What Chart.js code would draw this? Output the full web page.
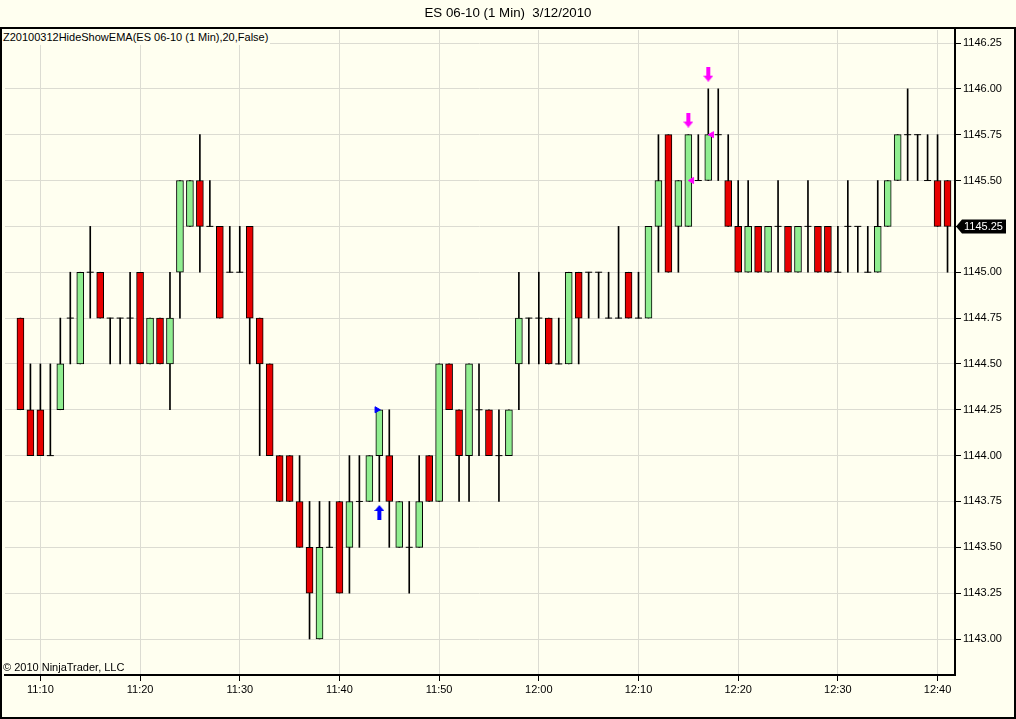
<!DOCTYPE html>
<html>
<head>
<meta charset="utf-8">
<script src="https://cdn.jsdelivr.net/npm/chart.js@4.4.1/dist/chart.umd.min.js"></script>
<style>
  html, body { margin: 0; padding: 0; background: #fffff0; }
  #wrap { position: relative; width: 1016px; height: 719px; overflow: hidden; background: #fffff0; }
  #c { position: absolute; left: 0; top: 0; }
  .txt { position: absolute; font-family: "Liberation Sans", Arial, sans-serif; color: #000; white-space: pre; }
  #title { left: 0; width: 1016px; top: 5px; text-align: center; font-size: 13.3px; }
  #ind { left: 2px; top: 30px; font-size: 11px; padding: 1px 2px 2px 1px; background: #fffff0; }
  #copy { left: 3px; top: 661px; font-size: 11px; }
</style>
</head>
<body>
<div id="wrap">
  <canvas id="c" width="1016" height="719"></canvas>
  <div class="txt" id="title">ES 06-10 (1 Min)  3/12/2010</div>
  <div class="txt" id="ind">Z20100312HideShowEMA(ES 06-10 (1 Min),20,False)</div>
  <div class="txt" id="copy">© 2010 NinjaTrader, LLC</div>
</div>
<script>
// 1 minute bars, ES 06-10, 3/12/2010
var times = [
  '11:08','11:09','11:10','11:11','11:12','11:13','11:14','11:15','11:16','11:17',
  '11:18','11:19','11:20','11:21','11:22','11:23','11:24','11:25','11:26','11:27',
  '11:28','11:29','11:30','11:31','11:32','11:33','11:34','11:35','11:36','11:37',
  '11:38','11:39','11:40','11:41','11:42','11:43','11:44','11:45','11:46','11:47',
  '11:48','11:49','11:50','11:51','11:52','11:53','11:54','11:55','11:56','11:57',
  '11:58','11:59','12:00','12:01','12:02','12:03','12:04','12:05','12:06','12:07',
  '12:08','12:09','12:10','12:11','12:12','12:13','12:14','12:15','12:16','12:17',
  '12:18','12:19','12:20','12:21','12:22','12:23','12:24','12:25','12:26','12:27',
  '12:28','12:29','12:30','12:31','12:32','12:33','12:34','12:35','12:36','12:37',
  '12:38','12:39','12:40','12:41'
];
var opens = [
  1144.75,1144.25,1144.25,1144.00,1144.25,1144.75,1144.50,1145.00,1145.00,1144.75,
  1144.75,1144.75,1145.00,1144.50,1144.75,1144.50,1145.00,1145.25,1145.50,1145.25,
  1145.25,1145.00,1145.00,1145.25,1144.75,1144.50,1144.00,1144.00,1143.75,1143.50,
  1143.00,1143.50,1143.75,1143.50,1143.75,1143.75,1144.00,1144.00,1143.50,1143.50,
  1143.50,1144.00,1143.75,1144.50,1144.25,1144.00,1144.25,1144.25,1144.00,1144.00,
  1144.50,1144.75,1144.75,1144.75,1144.50,1144.50,1145.00,1145.00,1145.00,1144.75,
  1144.75,1145.00,1144.75,1144.75,1145.25,1145.75,1145.25,1145.25,1145.50,1145.50,
  1145.75,1145.50,1145.25,1145.00,1145.25,1145.00,1145.25,1145.25,1145.00,1145.25,
  1145.25,1145.25,1145.00,1145.25,1145.25,1145.00,1145.00,1145.25,1145.50,1145.75,
  1145.75,1145.50,1145.50,1145.50
];
var highs = [
  1144.75,1144.50,1144.50,1144.50,1144.75,1145.00,1145.00,1145.25,1145.00,1144.75,
  1144.75,1145.00,1145.00,1144.75,1144.75,1145.00,1145.50,1145.50,1145.75,1145.50,
  1145.25,1145.25,1145.25,1145.25,1144.75,1144.50,1144.00,1144.00,1144.00,1143.75,
  1143.75,1143.75,1143.75,1144.00,1144.00,1144.00,1144.25,1144.25,1143.75,1143.75,
  1144.00,1144.00,1144.50,1144.50,1144.25,1144.50,1144.50,1144.25,1144.25,1144.25,
  1145.00,1144.75,1145.00,1144.75,1144.75,1145.00,1145.00,1145.00,1145.00,1145.00,
  1145.25,1145.00,1145.00,1145.25,1145.75,1145.75,1145.50,1145.75,1145.75,1146.00,
  1146.00,1145.75,1145.50,1145.50,1145.25,1145.25,1145.50,1145.25,1145.25,1145.50,
  1145.25,1145.25,1145.25,1145.50,1145.25,1145.25,1145.50,1145.50,1145.75,1146.00,
  1145.75,1145.75,1145.75,1145.50
];
var lows = [
  1144.25,1144.00,1144.00,1144.00,1144.25,1144.50,1144.50,1144.75,1144.75,1144.50,
  1144.50,1144.50,1144.50,1144.50,1144.50,1144.25,1144.75,1145.25,1145.00,1145.25,
  1144.75,1145.00,1145.00,1144.50,1144.00,1144.00,1143.75,1143.75,1143.50,1143.00,
  1143.00,1143.50,1143.25,1143.25,1143.50,1143.75,1143.75,1143.50,1143.50,1143.25,
  1143.50,1143.75,1143.75,1144.25,1143.75,1143.75,1144.00,1144.00,1143.75,1144.00,
  1144.25,1144.50,1144.50,1144.50,1144.50,1144.50,1144.50,1144.75,1144.75,1144.75,
  1144.75,1144.75,1144.75,1144.75,1145.00,1145.00,1145.00,1145.25,1145.50,1145.50,
  1145.50,1145.25,1145.00,1145.00,1145.00,1145.00,1145.00,1145.00,1145.00,1145.00,
  1145.00,1145.00,1145.00,1145.00,1145.00,1145.00,1145.00,1145.25,1145.50,1145.50,
  1145.50,1145.50,1145.25,1145.00
];
var closes = [
  1144.25,1144.00,1144.00,1144.00,1144.50,1144.75,1145.00,1145.00,1144.75,1144.75,
  1144.75,1144.75,1144.50,1144.75,1144.50,1144.75,1145.50,1145.50,1145.25,1145.25,
  1144.75,1145.00,1145.00,1144.75,1144.50,1144.00,1143.75,1143.75,1143.50,1143.25,
  1143.50,1143.50,1143.25,1143.75,1143.75,1144.00,1144.25,1143.75,1143.75,1143.50,
  1143.75,1143.75,1144.50,1144.25,1144.00,1144.50,1144.25,1144.00,1144.00,1144.25,
  1144.75,1144.75,1144.75,1144.50,1144.50,1145.00,1144.75,1145.00,1145.00,1144.75,
  1144.75,1144.75,1144.75,1145.25,1145.50,1145.00,1145.50,1145.75,1145.50,1145.75,
  1145.75,1145.25,1145.00,1145.25,1145.00,1145.25,1145.25,1145.00,1145.25,1145.25,
  1145.00,1145.00,1145.00,1145.25,1145.25,1145.00,1145.25,1145.50,1145.75,1145.75,
  1145.75,1145.50,1145.25,1145.25
];

var yTickValues = [1143.00,1143.25,1143.50,1143.75,1144.00,1144.25,1144.50,1144.75,
                   1145.00,1145.25,1145.50,1145.75,1146.00,1146.25];
var xTickLabels = ['11:10','11:20','11:30','11:40','11:50','12:00','12:10','12:20','12:30','12:40'];

// signal markers
var upArrowTimes = ['11:44'], upArrowPrices = [1143.69];
var downArrowTimes = ['12:15','12:17'], downArrowPrices = [1145.83, 1146.08];
var blueTriTimes = ['11:44'], blueTriPrices = [1144.25];
var pinkTriTimes = ['12:15','12:17'], pinkTriPrices = [1145.50, 1145.75];

var RED = '#e80000', GREEN = '#90ee90', BG = '#fffff0', GRID = '#dcdcd2';
var FONT = { family: '"Liberation Sans", Arial, sans-serif', size: 11 };

function toMin(s) {
  var p = s.split(':');
  return parseInt(p[0], 10) * 60 + parseInt(p[1], 10);
}
function fmtMin(v) {
  var h = Math.floor(v / 60), m = Math.round(v - h * 60);
  return h + ':' + (m < 10 ? '0' : '') + m;
}

var wickData = [], bodyData = [], bodyColors = [], dojiData = [];
for (var i = 0; i < times.length; i++) {
  var x = toMin(times[i]);
  wickData.push({ x: x, y: [lows[i], highs[i]] });
  if (opens[i] === closes[i]) {
    dojiData.push({ x: x, y: closes[i] });
  } else {
    bodyData.push({ x: x, y: [Math.min(opens[i], closes[i]), Math.max(opens[i], closes[i])] });
    bodyColors.push(closes[i] > opens[i] ? GREEN : RED);
  }
}

function arrowImage(color, up) {
  var c = document.createElement('canvas');
  c.width = 10; c.height = 15;
  var g = c.getContext('2d');
  g.fillStyle = color;
  g.beginPath();
  if (up) {
    g.moveTo(5, 0); g.lineTo(10, 6); g.lineTo(7, 6); g.lineTo(7, 15);
    g.lineTo(3, 15); g.lineTo(3, 6); g.lineTo(0, 6);
  } else {
    g.moveTo(5, 15); g.lineTo(10, 9); g.lineTo(7, 9); g.lineTo(7, 0);
    g.lineTo(3, 0); g.lineTo(3, 9); g.lineTo(0, 9);
  }
  g.closePath();
  g.fill();
  return c;
}

function pts(ts, ps, dx) {
  return ts.map(function (t, k) { return { x: toMin(t) + dx, y: ps[k] }; });
}

var framePlugin = {
  id: 'frame',
  afterDraw: function (chart) {
    var ctx = chart.ctx;
    var ys = chart.scales.y;
    // last price flag
    var last = closes[closes.length - 1];
    var y = Math.round(ys.getPixelForValue(last)) + 0.5;
    var x0 = chart.chartArea.right + 1;
    ctx.save();
    ctx.fillStyle = '#000';
    ctx.beginPath();
    ctx.moveTo(x0, y);
    ctx.lineTo(x0 + 6, y - 7);
    ctx.lineTo(x0 + 50, y - 7);
    ctx.lineTo(x0 + 50, y + 7);
    ctx.lineTo(x0 + 6, y + 7);
    ctx.closePath();
    ctx.fill();
    ctx.fillStyle = '#fff';
    ctx.font = '11px "Liberation Sans", Arial, sans-serif';
    ctx.textBaseline = 'middle';
    ctx.fillText(last.toFixed(2), x0 + 8, y);
    // outer border
    ctx.strokeStyle = '#000';
    ctx.lineWidth = 2;
    ctx.strokeRect(1, 28, 1014, 690);
    ctx.restore();
  }
};

new Chart(document.getElementById('c'), {
  type: 'bar',
  data: {
    datasets: [
      { type: 'bar', data: wickData, backgroundColor: '#000', barThickness: 1, grouped: false, order: 5 },
      { type: 'bar', data: bodyData, backgroundColor: bodyColors, borderColor: '#000', borderWidth: 1,
        borderSkipped: false, barThickness: 7, grouped: false, order: 4 },
      { type: 'line', data: dojiData, showLine: false, pointStyle: 'line', pointRadius: 3.5,
        pointBorderColor: '#000', pointBorderWidth: 1, order: 3 },
      { type: 'line', data: pts(upArrowTimes, upArrowPrices, 0), showLine: false,
        pointStyle: arrowImage('#0000ff', true), order: 1 },
      { type: 'line', data: pts(downArrowTimes, downArrowPrices, 0), showLine: false,
        pointStyle: arrowImage('#ff00ff', false), order: 1 },
      { type: 'line', data: pts(blueTriTimes, blueTriPrices, -0.25), showLine: false,
        pointStyle: 'triangle', pointRotation: 90, pointRadius: 3.5,
        pointBackgroundColor: '#0000ff', pointBorderColor: '#0000ff', order: 1 },
      { type: 'line', data: pts(pinkTriTimes, pinkTriPrices, 0.35), showLine: false,
        pointStyle: 'triangle', pointRotation: -90, pointRadius: 3.5,
        pointBackgroundColor: '#ff00ff', pointBorderColor: '#ff00ff', order: 1 }
    ]
  },
  options: {
    responsive: false,
    animation: false,
    devicePixelRatio: 1,
    layout: { padding: { top: 30, left: 2, right: 0, bottom: 0 } },
    plugins: { legend: { display: false }, tooltip: { enabled: false } },
    scales: {
      x: {
        type: 'linear',
        offset: false,
        min: 666.45,
        max: 761.75,
        afterBuildTicks: function (s) { s.ticks = xTickLabels.map(function (l) { return { value: toMin(l) }; }); },
        afterFit: function (s) { s.height = 44; },
        ticks: { callback: function (v) { return fmtMin(v); }, font: FONT, color: '#000',
                 padding: 2, maxRotation: 0, autoSkip: false },
        grid: { offset: false, color: GRID, tickColor: '#000', tickLength: 6 },
        border: { color: '#000', width: 2 }
      },
      y: {
        position: 'right',
        min: 1142.8037,
        max: 1146.3209,
        afterBuildTicks: function (s) { s.ticks = yTickValues.map(function (v) { return { value: v }; }); },
        afterFit: function (s) { s.width = 61; },
        ticks: { callback: function (v) { return v.toFixed(2); }, font: FONT, color: '#000', padding: 2 },
        grid: { color: GRID, tickColor: '#000', tickLength: 6 },
        border: { color: '#000', width: 2 }
      }
    }
  },
  plugins: [framePlugin]
});
</script>
</body>
</html>
